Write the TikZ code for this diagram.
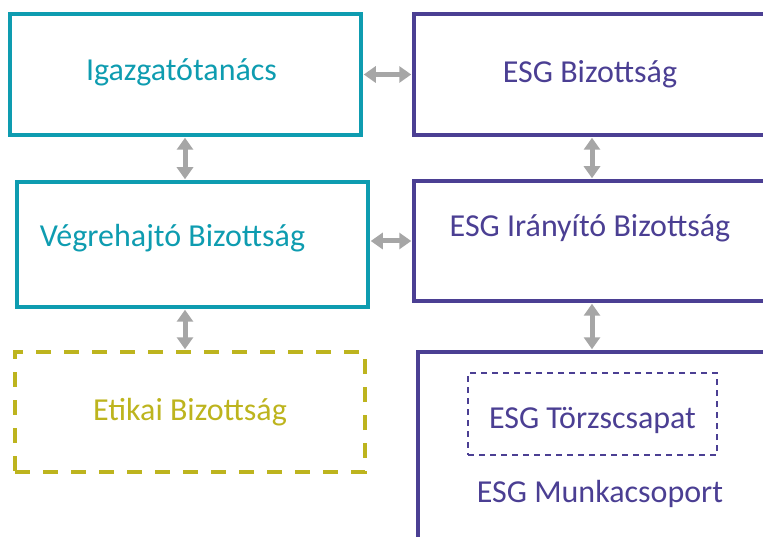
\documentclass[tikz,border=0pt]{standalone}
\usepackage{fontspec}
\setmainfont{Carlito}
\usepackage{tikz}
\usetikzlibrary{arrows.meta, positioning}
\definecolor{boardteal}{RGB}{14, 156, 176}
\definecolor{esgpurple}{RGB}{75, 63, 147}
\definecolor{ethicolive}{RGB}{189, 180, 30}
\definecolor{linkgray}{RGB}{166, 166, 166}

\tikzset{
    tealbox/.style={draw=boardteal, line width=3.5pt, text=boardteal, minimum width=351pt, minimum height=121pt},
    purplebox/.style={draw=esgpurple, line width=3.5pt, text=esgpurple, minimum width=352pt, minimum height=121pt},
    link/.style={draw=linkgray, line width=5pt, {Triangle[length=12pt, width=16pt]}-{Triangle[length=12pt, width=16pt]}, shorten <=1pt, shorten >=1pt}
}

\begin{document}
\begin{tikzpicture}[x=1pt, y=-1pt, font=\fontsize{32}{38}\selectfont]
    \useasboundingbox (0,0) rectangle (763,537);
    \clip (0,0) rectangle (763,537);

    % Left column
    \node[tealbox, label={[text=boardteal, xshift=-4pt, yshift=2pt]center:Igazgatótanács}] (board) at (185.5,74.5) {};
    \node[tealbox, minimum height=125pt,
          label={[text=boardteal, xshift=-20pt, yshift=6pt]center:Végrehajtó Bizottság}] (exec) at (192.5,244.5) {};
    \node[draw=ethicolive, line width=3.5pt, dash pattern=on 15pt off 13pt, text=ethicolive,
          minimum width=350pt, minimum height=120pt] (ethics) at (190,412) {Etikai Bizottság};

    % Right column
    \node[purplebox] (esgcom) at (590,74.5) {ESG Bizottság};
    \node[purplebox, minimum height=120pt,
          label={[text=esgpurple, yshift=13pt]center:ESG Irányító Bizottság}] (steer) at (590,241) {};
    \node[draw=esgpurple, line width=3.5pt, minimum width=364pt, minimum height=200pt,
          label={[text=esgpurple, yshift=-42pt]center:ESG Munkacsoport}] (workgrp) at (600,452) {};
    \node[draw=esgpurple, line width=2pt, dash pattern=on 6pt off 5pt, minimum width=249pt, minimum height=82pt,
          label={[text=esgpurple, yshift=-6pt]center:ESG Törzscsapat}] (core) at (592.5,414) {};

    % Connectors
    \coordinate (leftaxis) at (185,0);
    \coordinate (rightaxis) at (592,0);
    \draw[link] (board.east) -- (esgcom.west);
    \draw[link] (exec.east |- steer.west) -- (steer.west);
    \draw[link] (leftaxis |- board.south) -- (leftaxis |- exec.north);
    \draw[link] (leftaxis |- exec.south) -- (leftaxis |- ethics.north);
    \draw[link] (rightaxis |- esgcom.south) -- (rightaxis |- steer.north);
    \draw[link] (rightaxis |- steer.south) -- (rightaxis |- workgrp.north);
\end{tikzpicture}
\end{document}
